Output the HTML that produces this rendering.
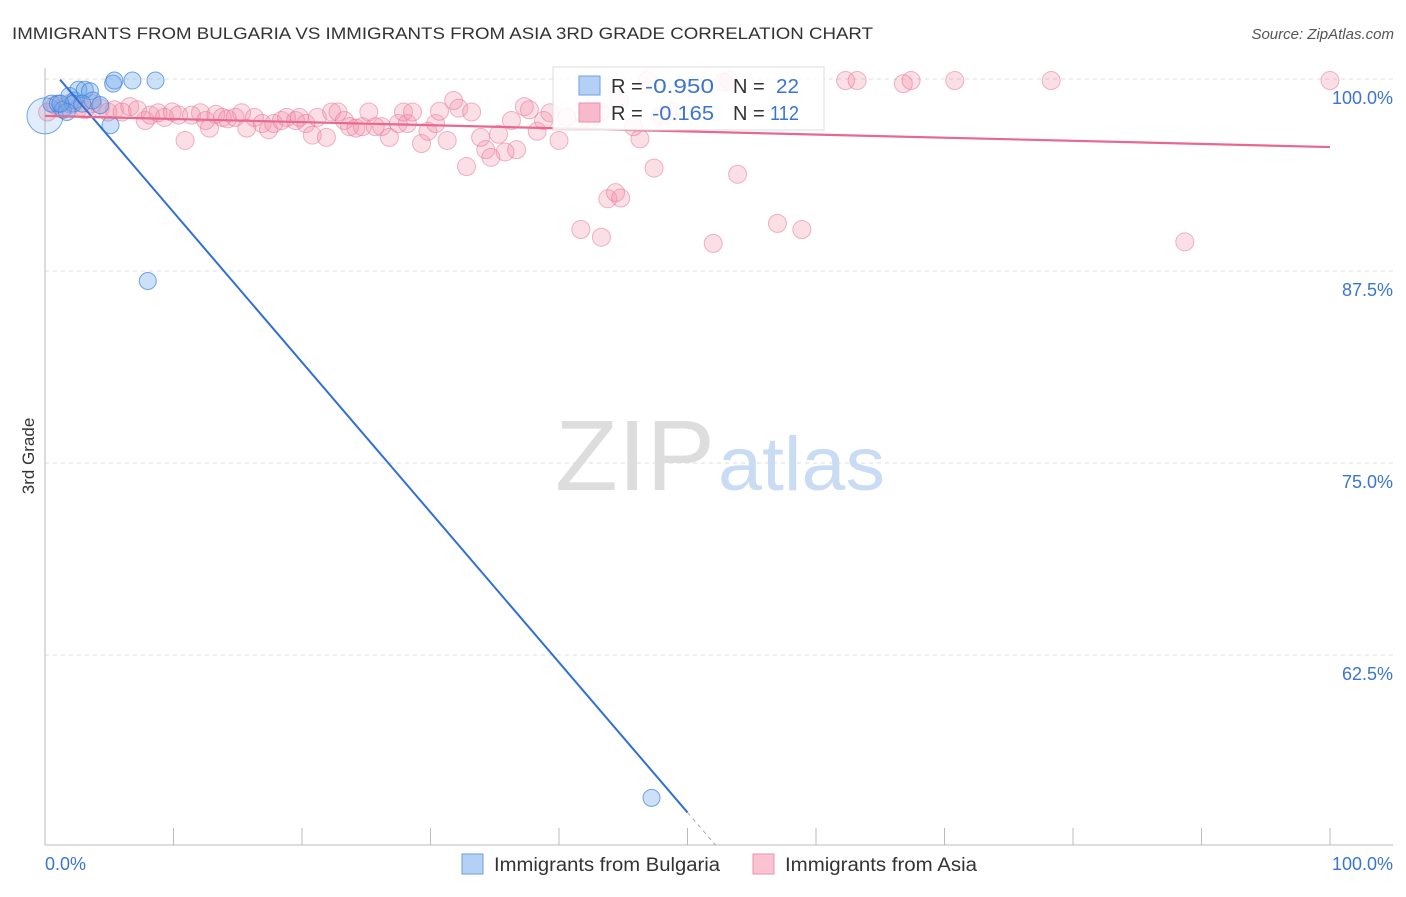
<!DOCTYPE html>
<html><head><meta charset="utf-8">
<style>
body{margin:0;background:#fff;font-family:"Liberation Sans",sans-serif;}
svg text{font-family:"Liberation Sans",sans-serif;}
</style></head>
<body>
<svg width="1406" height="892" viewBox="0 0 1406 892" xmlns="http://www.w3.org/2000/svg">
<text x="12" y="39" font-size="17" fill="#333" textLength="861" lengthAdjust="spacingAndGlyphs">IMMIGRANTS FROM BULGARIA VS IMMIGRANTS FROM ASIA 3RD GRADE CORRELATION CHART</text>
<text x="1394" y="39" font-size="15" fill="#555" text-anchor="end" font-style="italic">Source: ZipAtlas.com</text>
<g id="grid"></g>
<text x="555" y="490" font-size="100" fill="#ddd" font-family="Liberation Serif" textLength="160" lengthAdjust="spacingAndGlyphs">ZIP</text>
<text x="718" y="490" font-size="76" fill="#c9dcf3" textLength="167" lengthAdjust="spacingAndGlyphs">atlas</text>
<text transform="translate(34,456) rotate(-90)" font-size="17" fill="#333" text-anchor="middle">3rd Grade</text>
<g id="pts"></g>
<g id="lines"></g>
<g>
<rect x="553" y="67" width="271" height="63" fill="#fff" fill-opacity="0.85" stroke="#ddd"/>
<rect x="579" y="76" width="21" height="19" fill="#b5d0f5" stroke="#6a9fe0"/>
<rect x="579" y="103" width="21" height="19" fill="#f8b9cc" stroke="#ec8fae"/>
<text x="611" y="93" font-size="20" fill="#333">R = </text><text x="645" y="93" font-size="20" fill="#3a75d0" textLength="69" lengthAdjust="spacingAndGlyphs">-0.950</text>
<text x="733" y="93" font-size="20" fill="#333">N = </text><text x="776" y="93" font-size="20" fill="#3a75d0" textLength="23" lengthAdjust="spacingAndGlyphs">22</text>
<text x="611" y="120" font-size="20" fill="#333">R = </text><text x="652" y="120" font-size="20" fill="#3a75d0" textLength="62" lengthAdjust="spacingAndGlyphs">-0.165</text>
<text x="733" y="120" font-size="20" fill="#333">N = </text><text x="770" y="120" font-size="20" fill="#3a75d0" textLength="29" lengthAdjust="spacingAndGlyphs">112</text>
</g>
<g>
<rect x="462" y="854" width="21" height="20" fill="#b5d0f5" stroke="#6a9fe0"/>
<text x="494" y="871" font-size="19" fill="#333" textLength="226" lengthAdjust="spacingAndGlyphs">Immigrants from Bulgaria</text>
<rect x="753" y="854" width="21" height="20" fill="#f8c4d4" stroke="#ec8fae"/>
<text x="785" y="871" font-size="19" fill="#333" textLength="192" lengthAdjust="spacingAndGlyphs">Immigrants from Asia</text>
</g>
</svg>
<script>
const yTicks=[100,87.5,75,62.5];
const yTickLabels=["100.0%","87.5%","75.0%","62.5%"];
const xTickLabels=["0.0%","100.0%"];
const blueX=[0,0.5,1.0,1.4,1.9,2.3,2.6,3.1,3.5,3.7,5.1,5.3,5.4,6.8,8.6,8.0,47.2,4.3,2.2,1.7,1.2,2.9];
const blueY=[97.6,98.4,98.4,98.0,98.9,98.6,99.3,99.3,99.2,98.6,97.0,99.7,99.9,99.9,99.9,86.85,53.2,98.3,98.4,97.85,98.4,98.4];
const pinkX=[0.2,0.8,1.3,1.9,2.6,3.1,3.7,4.3,4.9,5.4,6.0,6.6,7.2,7.8,8.2,8.8,9.3,9.9,10.4,10.9,11.4,12.1,12.5,12.8,13.3,13.8,14.2,14.8,15.3,15.7,16.3,16.9,17.4,17.8,18.4,18.8,19.5,19.8,20.3,20.8,21.2,21.9,22.3,22.8,23.3,23.7,24.2,24.7,25.2,25.7,26.2,26.8,27.5,27.9,28.2,28.6,29.3,29.8,30.4,30.7,31.3,31.8,32.2,32.8,33.2,33.9,34.3,34.7,35.3,35.8,36.3,36.7,37.3,37.7,38.3,38.8,39.3,40.0,40.6,41.7,43.3,43.8,44.4,44.8,45.8,46.3,46.9,47.4,47.9,48.8,52.0,52.8,53.2,53.9,57.0,58.9,62.3,63.2,66.8,67.4,70.8,78.3,88.7,100,43.2,44.7,42.4];
const pinkY=[97.85,98.3,98.1,98.4,98.1,98.0,98.4,98.1,97.85,98.0,97.85,98.2,98.0,97.3,97.65,97.8,97.5,97.85,97.65,96.0,97.65,97.8,97.3,96.8,97.7,97.5,97.4,97.5,97.8,96.8,97.5,97.1,96.7,97.1,97.3,97.5,97.3,97.5,97.1,96.35,97.5,96.2,97.85,97.85,97.3,96.9,96.8,96.9,97.85,96.9,96.9,96.2,97.1,97.85,97.1,97.85,95.8,96.6,97.1,97.9,96.0,98.6,98.1,94.3,97.85,96.2,95.4,94.9,96.4,95.25,97.3,95.4,98.2,98.0,96.6,97.3,97.8,96.0,97.5,90.2,89.7,92.2,92.6,92.25,96.9,96.1,99.9,94.2,97.6,97.9,89.3,99.8,99.9,93.8,90.6,90.2,99.9,99.9,99.7,99.9,99.9,99.9,89.4,99.9,97.85,98.6,97.3];
const blueFit=[101.1,-0.977];
const pinkFit=[97.6,-0.0203];
const NS="http://www.w3.org/2000/svg";
const sx=v=>45+v*12.85;
const sy=v=>79+(100-v)*15.36;
function mk(tag,attrs,parent){const e=document.createElementNS(NS,tag);for(const k in attrs)e.setAttribute(k,attrs[k]);parent.appendChild(e);return e;}
const grid=document.getElementById('grid');
yTicks.forEach((t,i)=>{
 const l=mk('line',{x1:45,x2:1393,y1:sy(t),y2:sy(t),stroke:'#ddd','stroke-dasharray':'4,4'},grid);
 
 
 const tx=mk('text',{x:1393,y:sy(t)+25,'font-size':18,fill:'#3a75d0','text-anchor':'end'},grid);
 tx.textContent=yTickLabels[i];
 
 
});
const ya=mk('line',{x1:45,x2:45,y1:68,y2:845,stroke:'#bbb'},grid);


const xa=mk('line',{x1:45,x2:1393,y1:845,y2:845,stroke:'#bbb'},grid);


for(let i=0;i<=10;i++){
 const t=mk('line',{x1:sx(i*10),x2:sx(i*10),y1:828,y2:845,stroke:'#bbb'},grid);
 
 
}
[[0,'start',45],[100,'end',1393]].forEach((d,i)=>{
 const tx=mk('text',{x:d[2],y:870,'font-size':18,fill:'#3a75d0','text-anchor':d[1]},grid);
 tx.textContent=xTickLabels[i];
 
 
});
const pts=document.getElementById('pts');
pinkX.forEach((x,i)=>{
 const c=mk('circle',{cx:sx(x),cy:sy(pinkY[i]),r:9,fill:'rgba(242,140,170,0.28)',stroke:'rgba(230,120,155,0.55)','stroke-width':1},pts);
 
 
});
blueX.forEach((x,i)=>{
 const c=mk('circle',{cx:sx(x),cy:sy(blueY[i]),r:i===0?18:8.5,fill:i===0?'rgba(110,165,235,0.2)':'rgba(110,165,235,0.35)',stroke:'rgba(60,130,220,0.7)','stroke-width':1},pts);
 
 
});
const lines=document.getElementById('lines');
const bx0=1.17,bx1=50,bx2=52.2;
const bl=mk('line',{x1:sx(bx0),y1:sy(blueFit[0]+blueFit[1]*bx0),x2:sx(bx1),y2:sy(blueFit[0]+blueFit[1]*bx1),stroke:'#2f6fd6','stroke-width':2},lines);


const bd=mk('line',{x1:sx(bx1),y1:sy(blueFit[0]+blueFit[1]*bx1),x2:sx(bx2),y2:sy(blueFit[0]+blueFit[1]*bx2),stroke:'#aaa','stroke-width':1,'stroke-dasharray':'4,4'},lines);


const pl=mk('line',{x1:sx(0),y1:sy(pinkFit[0]),x2:sx(100),y2:sy(pinkFit[0]+pinkFit[1]*100),stroke:'#e8688f','stroke-width':2.2},lines);


</script>
</body></html>
